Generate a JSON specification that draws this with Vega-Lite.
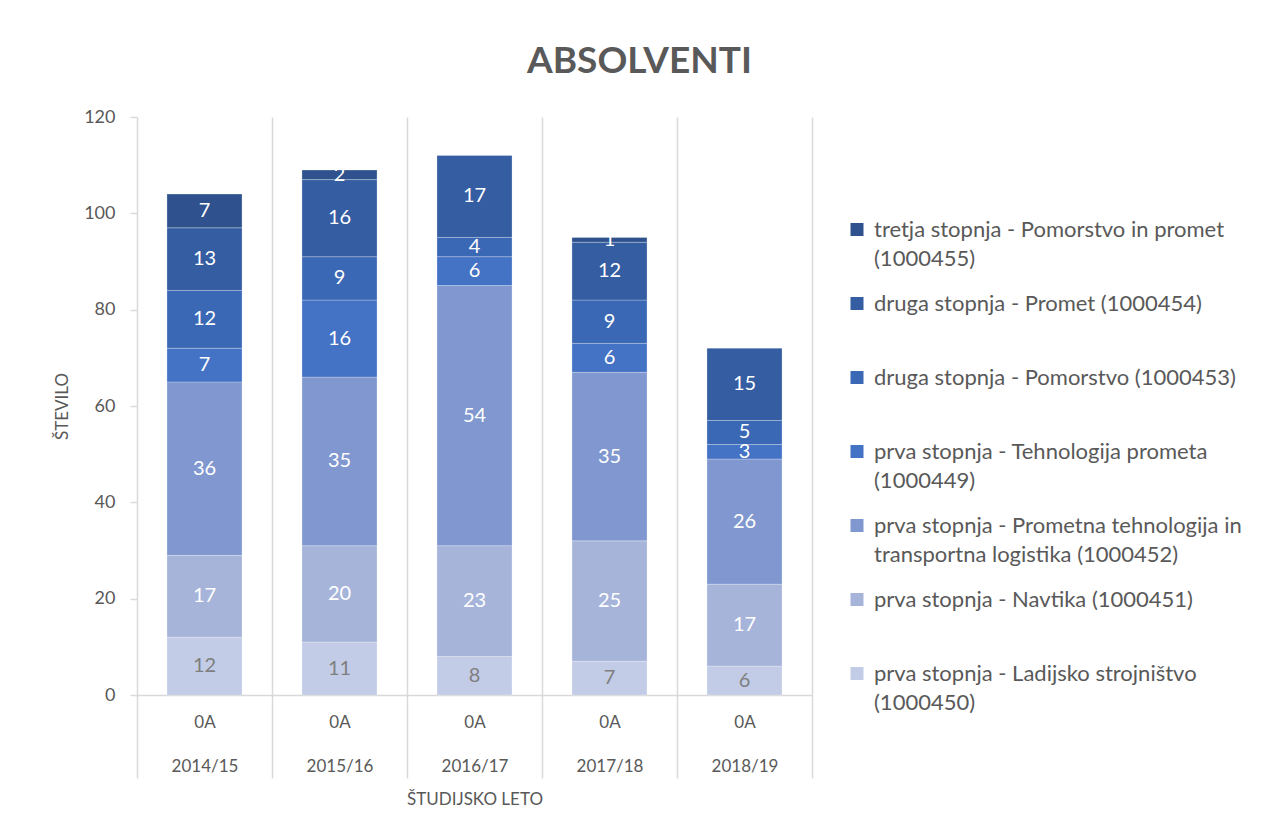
{
  "$schema": "https://vega.github.io/schema/vega-lite/v6.json",
  "autosize": {"type": "none"},
  "width": 675,
  "height": 578,
  "padding": {"left": 137, "top": 117, "right": 453, "bottom": 142},
  "background": "white",
  "config": {"font": "Lato", "view": {"stroke": null}, "style": {"guide-label": {"lineHeight": 29}}},
  "title": {"text": "ABSOLVENTI", "fontSize": 37, "fontWeight": "bold", "color": "#595959", "anchor": "middle", "dx": 165, "offset": 27},
  "data": {"values": [
    {"leto": "2014/15", "program": "prva stopnja - Ladijsko strojništvo (1000450)", "stevilo": 12},
    {"leto": "2014/15", "program": "prva stopnja - Navtika (1000451)", "stevilo": 17},
    {"leto": "2014/15", "program": "prva stopnja - Prometna tehnologija in transportna logistika (1000452)", "stevilo": 36},
    {"leto": "2014/15", "program": "prva stopnja - Tehnologija prometa (1000449)", "stevilo": 7},
    {"leto": "2014/15", "program": "druga stopnja - Pomorstvo (1000453)", "stevilo": 12},
    {"leto": "2014/15", "program": "druga stopnja - Promet (1000454)", "stevilo": 13},
    {"leto": "2014/15", "program": "tretja stopnja - Pomorstvo in promet (1000455)", "stevilo": 7},
    {"leto": "2015/16", "program": "prva stopnja - Ladijsko strojništvo (1000450)", "stevilo": 11},
    {"leto": "2015/16", "program": "prva stopnja - Navtika (1000451)", "stevilo": 20},
    {"leto": "2015/16", "program": "prva stopnja - Prometna tehnologija in transportna logistika (1000452)", "stevilo": 35},
    {"leto": "2015/16", "program": "prva stopnja - Tehnologija prometa (1000449)", "stevilo": 16},
    {"leto": "2015/16", "program": "druga stopnja - Pomorstvo (1000453)", "stevilo": 9},
    {"leto": "2015/16", "program": "druga stopnja - Promet (1000454)", "stevilo": 16},
    {"leto": "2015/16", "program": "tretja stopnja - Pomorstvo in promet (1000455)", "stevilo": 2},
    {"leto": "2016/17", "program": "prva stopnja - Ladijsko strojništvo (1000450)", "stevilo": 8},
    {"leto": "2016/17", "program": "prva stopnja - Navtika (1000451)", "stevilo": 23},
    {"leto": "2016/17", "program": "prva stopnja - Prometna tehnologija in transportna logistika (1000452)", "stevilo": 54},
    {"leto": "2016/17", "program": "prva stopnja - Tehnologija prometa (1000449)", "stevilo": 6},
    {"leto": "2016/17", "program": "druga stopnja - Pomorstvo (1000453)", "stevilo": 4},
    {"leto": "2016/17", "program": "druga stopnja - Promet (1000454)", "stevilo": 17},
    {"leto": "2017/18", "program": "prva stopnja - Ladijsko strojništvo (1000450)", "stevilo": 7},
    {"leto": "2017/18", "program": "prva stopnja - Navtika (1000451)", "stevilo": 25},
    {"leto": "2017/18", "program": "prva stopnja - Prometna tehnologija in transportna logistika (1000452)", "stevilo": 35},
    {"leto": "2017/18", "program": "prva stopnja - Tehnologija prometa (1000449)", "stevilo": 6},
    {"leto": "2017/18", "program": "druga stopnja - Pomorstvo (1000453)", "stevilo": 9},
    {"leto": "2017/18", "program": "druga stopnja - Promet (1000454)", "stevilo": 12},
    {"leto": "2017/18", "program": "tretja stopnja - Pomorstvo in promet (1000455)", "stevilo": 1},
    {"leto": "2018/19", "program": "prva stopnja - Ladijsko strojništvo (1000450)", "stevilo": 6},
    {"leto": "2018/19", "program": "prva stopnja - Navtika (1000451)", "stevilo": 17},
    {"leto": "2018/19", "program": "prva stopnja - Prometna tehnologija in transportna logistika (1000452)", "stevilo": 26},
    {"leto": "2018/19", "program": "prva stopnja - Tehnologija prometa (1000449)", "stevilo": 3},
    {"leto": "2018/19", "program": "druga stopnja - Pomorstvo (1000453)", "stevilo": 5},
    {"leto": "2018/19", "program": "druga stopnja - Promet (1000454)", "stevilo": 15}
  ]},
  "transform": [
    {"calculate": "indexof(['prva stopnja - Ladijsko strojništvo (1000450)', 'prva stopnja - Navtika (1000451)', 'prva stopnja - Prometna tehnologija in transportna logistika (1000452)', 'prva stopnja - Tehnologija prometa (1000449)', 'druga stopnja - Pomorstvo (1000453)', 'druga stopnja - Promet (1000454)', 'tretja stopnja - Pomorstvo in promet (1000455)'], datum.program)", "as": "red"}
  ],
  "encoding": {
    "x": {
      "field": "leto", "type": "nominal",
      "scale": {"paddingInner": 0, "paddingOuter": 0},
      "title": "ŠTUDIJSKO LETO",
      "axis": {
        "tickBand": "extent", "grid": true, "gridColor": "#d9d9d9", "gridWidth": 1.5,
        "ticks": true, "tickSize": 83, "tickColor": "#d9d9d9", "tickWidth": 1.5,
        "domainColor": "#d9d9d9", "domainWidth": 1.5,
        "labelAngle": 0, "labelFontSize": 17, "labelColor": "#595959",
        "labelPadding": -64, "labelLineHeight": 44, "labelBaseline": "top",
        "labelExpr": "datum.label ? ['0A', datum.label] : ''",
        "titleFontSize": 17, "titleColor": "#595959", "titleFontWeight": "normal", "titlePadding": 13
      }
    },
    "y": {
      "field": "stevilo", "type": "quantitative", "stack": "zero",
      "scale": {"domain": [0, 120], "nice": false},
      "title": "ŠTEVILO",
      "axis": {
        "values": [0, 20, 40, 60, 80, 100, 120], "grid": false, "domain": false,
        "ticks": true, "tickSize": 7, "tickColor": "#d9d9d9", "tickWidth": 1.5,
        "labelFontSize": 18, "labelColor": "#595959", "labelPadding": 15,
        "titleFontSize": 17, "titleColor": "#595959", "titleFontWeight": "normal", "titlePadding": 12
      }
    },
    "order": {"field": "red", "type": "quantitative"}
  },
  "layer": [
    {
      "mark": {"type": "bar", "width": {"band": 0.556}, "stroke": "#ffffff", "strokeWidth": 0.75, "strokeOpacity": 0.35},
      "encoding": {
        "color": {
          "field": "program", "type": "nominal",
          "scale": {
            "domain": ["tretja stopnja - Pomorstvo in promet (1000455)", "druga stopnja - Promet (1000454)", "druga stopnja - Pomorstvo (1000453)", "prva stopnja - Tehnologija prometa (1000449)", "prva stopnja - Prometna tehnologija in transportna logistika (1000452)", "prva stopnja - Navtika (1000451)", "prva stopnja - Ladijsko strojništvo (1000450)"],
            "range": ["#2F528F", "#355DA2", "#3B68B4", "#4472C4", "#8097CF", "#A6B4DA", "#C3CCE6"]
          },
          "legend": {
            "orient": "none", "legendX": 709, "legendY": 92, "padding": 0,
            "title": null, "symbolType": "M-1,0.46L1,0.46L1,2.46L-1,2.46Z", "symbolSize": 169, "symbolStrokeWidth": 0,
            "labelFontSize": 22, "labelColor": "#595959", "labelLimit": 500,
            "labelBaseline": "top", "rowPadding": 13, "labelOffset": 6,
            "labelExpr": "datum.label == 'tretja stopnja - Pomorstvo in promet (1000455)' ? ['tretja stopnja - Pomorstvo in promet', '(1000455)'] : datum.label == 'prva stopnja - Tehnologija prometa (1000449)' ? ['prva stopnja - Tehnologija prometa', '(1000449)'] : datum.label == 'prva stopnja - Prometna tehnologija in transportna logistika (1000452)' ? ['prva stopnja - Prometna tehnologija in', 'transportna logistika (1000452)'] : datum.label == 'prva stopnja - Ladijsko strojništvo (1000450)' ? ['prva stopnja - Ladijsko strojništvo', '(1000450)'] : [datum.label, '']"
          }
        }
      }
    },
    {
      "mark": {"type": "text", "fontSize": 20},
      "encoding": {
        "y": {"field": "stevilo", "type": "quantitative", "stack": "zero", "bandPosition": 0.5},
        "text": {"field": "stevilo", "type": "quantitative"},
        "color": {
          "condition": {"test": "datum.program == 'prva stopnja - Ladijsko strojništvo (1000450)'", "value": "#7f7f7f"},
          "value": "#ffffff"
        }
      }
    }
  ]
}
